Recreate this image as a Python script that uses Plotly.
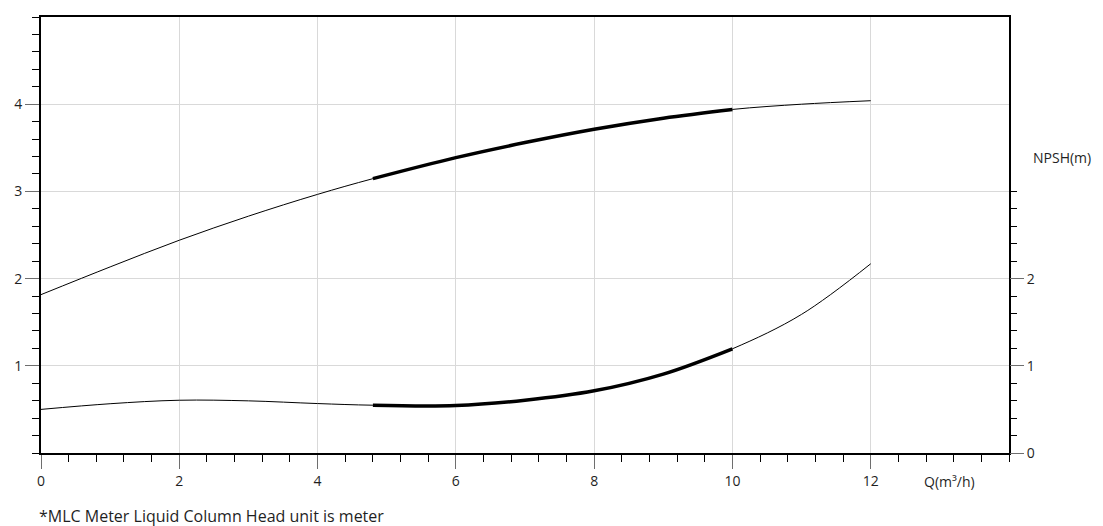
import plotly.graph_objects as go

# Data
q_head = [0, 1, 2, 3, 4, 4.8, 6, 7, 8, 9, 10, 11, 12]
head = [1.816, 2.134, 2.44, 2.716, 2.966, 3.146, 3.387, 3.56, 3.713, 3.84, 3.94, 4.0, 4.04]

q_npsh = [0, 1, 2, 3, 4, 4.8, 6, 7, 8, 9, 10, 11, 12]
npsh = [0.50, 0.565, 0.605, 0.598, 0.567, 0.548, 0.545, 0.605, 0.713, 0.905, 1.195, 1.59, 2.17]

op_min, op_max = 4.8, 10

x_ticks = [0, 2, 4, 6, 8, 10, 12, 14]
x_labels = ["0", "2", "4", "6", "8", "10", "12", ""]
y_ticks = [1, 2, 3, 4, 5]
y_labels = ["1", "2", "3", "4", ""]
y2_ticks = [0, 1, 2, 3]
y2_labels = ["0", "1", "2", ""]

FONT = "Open Sans, Noto Sans, sans-serif"
TXT = "#1f1f1f"

def seg(xs, ys):
    sx, sy = [], []
    for a, b in zip(xs, ys):
        if op_min <= a <= op_max:
            sx.append(a)
            sy.append(b)
    return sx, sy

SM = 1.0
fig = go.Figure()
fig.add_trace(go.Scatter(x=q_head, y=head, mode="lines",
                         line=dict(color="black", width=1, shape="spline", smoothing=SM),
                         showlegend=False, hoverinfo="skip"))
hx, hy = seg(q_head, head)
fig.add_trace(go.Scatter(x=hx, y=hy, mode="lines",
                         line=dict(color="black", width=3.5, shape="spline", smoothing=SM),
                         showlegend=False, hoverinfo="skip"))
fig.add_trace(go.Scatter(x=q_npsh, y=npsh, mode="lines", yaxis="y2",
                         line=dict(color="black", width=1, shape="spline", smoothing=SM),
                         showlegend=False, hoverinfo="skip"))
nx, ny = seg(q_npsh, npsh)
fig.add_trace(go.Scatter(x=nx, y=ny, mode="lines", yaxis="y2",
                         line=dict(color="black", width=3.5, shape="spline", smoothing=SM),
                         showlegend=False, hoverinfo="skip"))

minor_x = [i * 0.4 for i in range(0, 36)]
minor_y = [i * 0.2 for i in range(0, 26)]
minor_y2 = [i * 0.2 for i in range(0, 16)]

# page body has a margin, so margins are compensated
fig.update_layout(
    width=1103, height=526,
    margin=dict(l=33, r=102, t=9, b=81, autoexpand=False),
    paper_bgcolor="white", plot_bgcolor="white",
    font=dict(family=FONT, size=14, color=TXT),
    xaxis=dict(range=[0, 14], tickmode="array", tickvals=x_ticks, ticktext=x_labels,
               automargin=False,
               ticks="outside", ticklen=14, tickcolor="#6e6e6e", tickwidth=1,
               showgrid=True, gridcolor="#d9d9d9", gridwidth=1,
               showline=True, linecolor="black", linewidth=2, mirror=True,
               zeroline=False,
               minor=dict(tickmode="array", tickvals=minor_x, ticks="outside",
                          ticklen=7, tickcolor="black", tickwidth=1, showgrid=False)),
    yaxis=dict(range=[0, 5], tickmode="array", tickvals=y_ticks, ticktext=y_labels,
               automargin=False,
               ticks="outside", ticklen=14, tickcolor="#6e6e6e", tickwidth=1,
               showgrid=True, gridcolor="#d9d9d9", gridwidth=1,
               showline=True, linecolor="black", linewidth=2, mirror=True,
               zeroline=False,
               minor=dict(tickmode="array", tickvals=minor_y, ticks="outside",
                          ticklen=7, tickcolor="black", tickwidth=1, showgrid=False)),
    yaxis2=dict(range=[0, 5], overlaying="y", side="right", anchor="x",
                automargin=False,
                tickmode="array", tickvals=y2_ticks, ticktext=y2_labels,
                ticks="outside", ticklen=14, tickcolor="#6e6e6e", tickwidth=1,
                showgrid=False, showline=False, zeroline=False,
                minor=dict(tickmode="array", tickvals=minor_y2, ticks="outside",
                           ticklen=7, tickcolor="black", tickwidth=1, showgrid=False)),
    annotations=[
        dict(text="Q(m³/h)", x=13.14, y=(453 - 481) / 436, xref="x", yref="paper",
             xanchor="center", yanchor="middle", showarrow=False,
             font=dict(size=14, color=TXT, family=FONT)),
        dict(text="NPSH(m)", x=1.0548, y=3.39, xref="paper", yref="y",
             xanchor="center", yanchor="middle", showarrow=False,
             font=dict(size=14, color=TXT, family=FONT)),
        dict(text="*MLC Meter Liquid Column Head unit is meter", x=-0.004, y=-0.1445,
             xref="paper", yref="paper", xanchor="left", yanchor="middle", showarrow=False,
             font=dict(size=16, color=TXT, family=FONT)),
    ],
)

fig.write_html("out.html")
